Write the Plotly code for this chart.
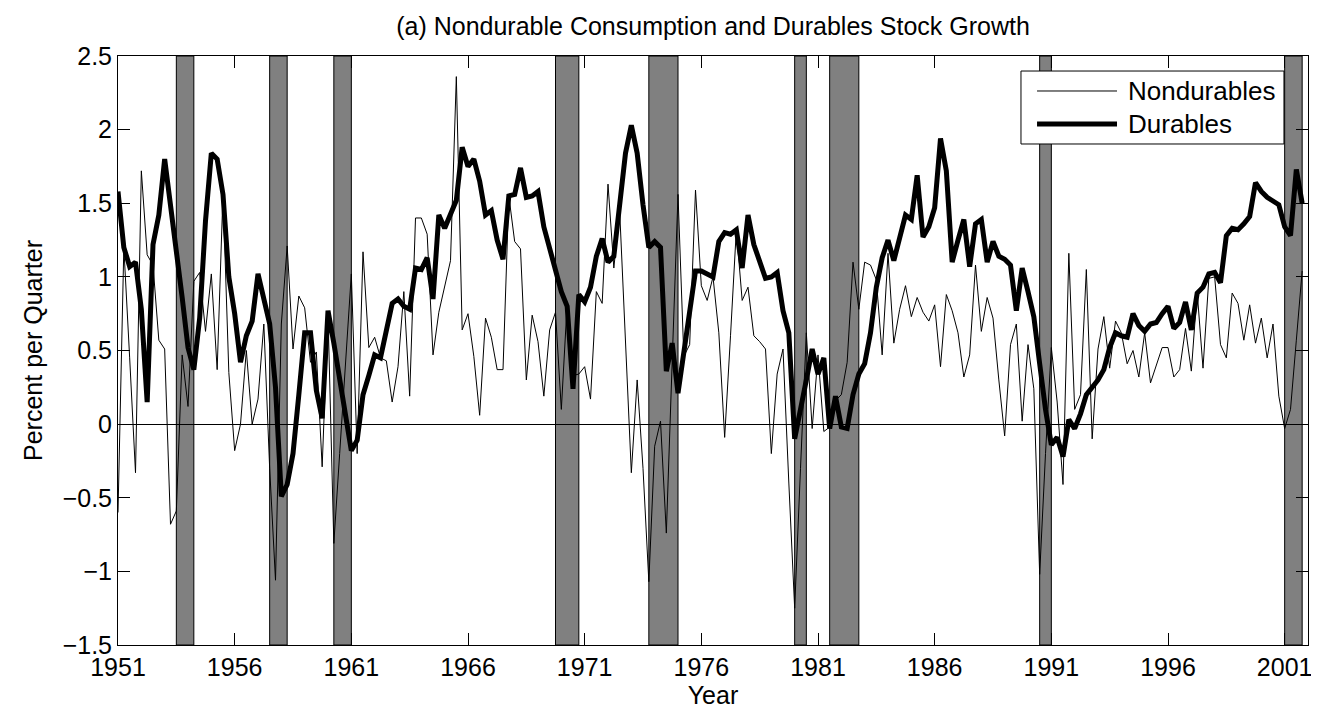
import plotly.graph_objects as go

# ---- data (quarterly, 1951Q1 .. 2001Q4) ----
start_year = 1951
nondurables = [
    -0.60, 1.20, 0.45, -0.33, 1.72, 1.15, 1.08, 0.57, 0.51, -0.68,
    -0.59, 0.47, 0.12, 0.97, 1.03, 0.63, 1.02, 0.37, 1.57, 0.35,
    -0.18, 0.00, 0.50, 0.00, 0.17, 0.68, -0.30, -1.06, 0.68, 1.21,
    0.51, 0.87, 0.79, 0.42, 0.49, -0.29, 0.75, -0.81, -0.20, 0.40,
    1.02, -0.20, 1.17, 0.52, 0.59, 0.45, 0.43, 0.15, 0.39, 0.90,
    0.19, 1.40, 1.40, 1.29, 0.47, 0.76, 0.93, 1.11, 2.36, 0.64,
    0.75, 0.46, 0.06, 0.72, 0.59, 0.37, 0.37, 1.55, 1.24, 1.19,
    0.30, 0.74, 0.56, 0.19, 0.64, 0.76, 0.10, 0.82, 0.33, 0.34,
    0.39, 0.17, 0.90, 0.82, 1.63, 1.06, 1.45, 0.50, -0.33, 0.30,
    -0.30, -1.07, -0.15, 0.02, -0.74, 0.42, 1.56, 0.46, 0.54, 1.59,
    0.94, 0.84, 1.00, 0.62, -0.09, 0.60, 1.32, 0.84, 0.93, 0.60,
    0.56, 0.51, -0.20, 0.34, 0.51, -0.40, -1.25, -0.30, 0.62, -0.03,
    0.47, -0.05, -0.02, 0.16, 0.20, 0.42, 1.10, 0.78, 1.10, 1.08,
    0.98, 0.47, 1.16, 0.55, 0.78, 0.94, 0.73, 0.86, 0.76, 0.70,
    0.81, 0.39, 0.88, 0.77, 0.62, 0.32, 0.47, 1.08, 0.63, 0.86,
    0.72, 0.30, -0.08, 0.54, 0.68, 0.02, 0.54, 0.24, -1.02, -0.20,
    0.52, 0.15, -0.41, 1.16, 0.10, 0.20, 1.05, -0.10, 0.51, 0.73,
    0.38, 0.70, 0.62, 0.41, 0.50, 0.32, 0.62, 0.28, 0.40, 0.52,
    0.52, 0.32, 0.37, 0.65, 0.36, 0.90, 0.38, 0.99, 1.00, 0.54,
    0.45, 0.89, 0.82, 0.57, 0.81, 0.55, 0.72, 0.45, 0.68, 0.19,
    -0.03, 0.10, 0.57, 1.04,
]
durables = [
    1.58, 1.20, 1.07, 1.10, 0.78, 0.15, 1.22, 1.42, 1.80, 1.50,
    1.17, 0.86, 0.52, 0.37, 0.72, 1.38, 1.84, 1.80, 1.56, 1.00,
    0.75, 0.42, 0.60, 0.70, 1.02, 0.86, 0.68, 0.25, -0.49, -0.41,
    -0.20, 0.20, 0.62, 0.62, 0.23, 0.04, 0.77, 0.55, 0.30, 0.02,
    -0.18, -0.11, 0.20, 0.33, 0.47, 0.45, 0.62, 0.82, 0.85, 0.80,
    0.78, 1.06, 1.05, 1.13, 0.85, 1.42, 1.33, 1.42, 1.52, 1.88,
    1.75, 1.80, 1.65, 1.42, 1.45, 1.25, 1.12, 1.55, 1.56, 1.74,
    1.54, 1.55, 1.58, 1.34, 1.19, 1.03, 0.90, 0.80, 0.24, 0.88,
    0.83, 0.93, 1.14, 1.26, 1.10, 1.14, 1.52, 1.84, 2.03, 1.84,
    1.49, 1.20, 1.24, 1.20, 0.36, 0.55, 0.21, 0.48, 0.74, 1.04,
    1.04, 1.02, 1.00, 1.24, 1.30, 1.29, 1.32, 1.06, 1.42, 1.22,
    1.11, 0.99, 1.00, 1.03, 0.77, 0.62, -0.10, 0.12, 0.30, 0.51,
    0.34, 0.45, -0.03, 0.19, -0.02, -0.03, 0.20, 0.34, 0.41, 0.62,
    0.93, 1.13, 1.25, 1.11, 1.28, 1.42, 1.39, 1.69, 1.27, 1.34,
    1.47, 1.94, 1.72, 1.10, 1.25, 1.39, 1.07, 1.36, 1.39, 1.10,
    1.24, 1.14, 1.12, 1.08, 0.77, 1.06, 0.90, 0.73, 0.41, 0.10,
    -0.14, -0.09, -0.22, 0.03, -0.03, 0.07, 0.20, 0.25, 0.30, 0.37,
    0.52, 0.62, 0.60, 0.59, 0.75, 0.67, 0.63, 0.68, 0.69, 0.75,
    0.80, 0.65, 0.69, 0.83, 0.64, 0.89, 0.93, 1.02, 1.03, 0.96,
    1.28, 1.33, 1.32, 1.36, 1.41, 1.64, 1.58, 1.54, 1.51, 1.49,
    1.34, 1.28, 1.73, 1.50,
]
# NBER recessions: (peak quarter, trough quarter) as fractional years
recession_start = [1953.5, 1957.5, 1960.25, 1969.75, 1973.75, 1980.0, 1981.5, 1990.5, 2001.0]
recession_end = [1954.25, 1958.25, 1961.0, 1970.75, 1975.0, 1980.5, 1982.75, 1991.0, 2001.75]
x_ticks = [1951, 1956, 1961, 1966, 1971, 1976, 1981, 1986, 1991, 1996, 2001]
y_ticks = [-1.5, -1.0, -0.5, 0.0, 0.5, 1.0, 1.5, 2.0, 2.5]
y_ticklabels = ["\u22121.5", "\u22121", "\u22120.5", "0", "0.5", "1", "1.5", "2", "2.5"]
series_names = ["Nondurables", "Durables"]

dates = [start_year + i / 4 for i in range(len(durables))]

FONT = "Liberation Sans, Arial, Helvetica, sans-serif"
FS = 25

fig = go.Figure()
fig.add_trace(go.Scatter(x=dates, y=nondurables, mode="lines", name=series_names[0],
                         line=dict(color="black", width=1), showlegend=False))
fig.add_trace(go.Scatter(x=dates, y=durables, mode="lines", name=series_names[1],
                         line=dict(color="black", width=5), showlegend=False))

shapes = []
for a, b in zip(recession_start, recession_end):
    shapes.append(dict(type="rect", xref="x", yref="paper", x0=a, x1=b, y0=0, y1=1,
                       fillcolor="#808080", line=dict(color="black", width=1), layer="below"))

# legend box (drawn manually for MATLAB-like long line samples)
lx0, lx1, ly0, ly1 = 0.7588, 0.9798, 0.8506, 0.9745
shapes.append(dict(type="rect", xref="paper", yref="paper", x0=lx0, x1=lx1, y0=ly0, y1=ly1,
                   fillcolor="white", line=dict(color="black", width=1), layer="above"))
rows_y = [0.9406, 0.8846]
widths = [1, 5]
annotations = []
for name, yy, w in zip(series_names, rows_y, widths):
    shapes.append(dict(type="line", xref="paper", yref="paper", x0=0.7723, x1=0.8395, y0=yy, y1=yy,
                       line=dict(color="black", width=w), layer="above"))
    annotations.append(dict(xref="paper", yref="paper", x=0.8470, y=yy, text=name, showarrow=False,
                            xanchor="left", yanchor="middle", font=dict(size=26, color="black", family=FONT)))

fig.update_layout(
    width=1319, height=709,
    margin=dict(l=110, r=19, t=48, b=72),
    paper_bgcolor="white", plot_bgcolor="white",
    font=dict(family=FONT, size=FS, color="black"),
    title=dict(text="(a) Nondurable Consumption and Durables Stock Growth",
               x=(110 + 1300) / 2 / 1319, xanchor="center", y=1 - 18 / 709, yanchor="middle",
               font=dict(size=FS, color="black", family=FONT)),
    shapes=shapes, annotations=annotations,
    xaxis=dict(range=[1951, 2002], tickvals=x_ticks, ticktext=[str(t) for t in x_ticks],
               ticks="inside", ticklen=12, tickcolor="black", showline=True, linecolor="black",
               linewidth=1, mirror="ticks", showgrid=False, zeroline=False,
               tickfont=dict(size=FS), title=dict(text="Year", font=dict(size=FS), standoff=0)),
    yaxis=dict(range=[-1.5, 2.5], tickvals=y_ticks, ticktext=y_ticklabels,
               ticks="inside", ticklen=12, tickcolor="black", showline=True, linecolor="black",
               linewidth=1, mirror="ticks", showgrid=False, zeroline=True, zerolinecolor="black",
               zerolinewidth=1, tickfont=dict(size=FS),
               title=dict(text="Percent per Quarter", font=dict(size=FS), standoff=12)),
)

fig.write_html("out.html")
